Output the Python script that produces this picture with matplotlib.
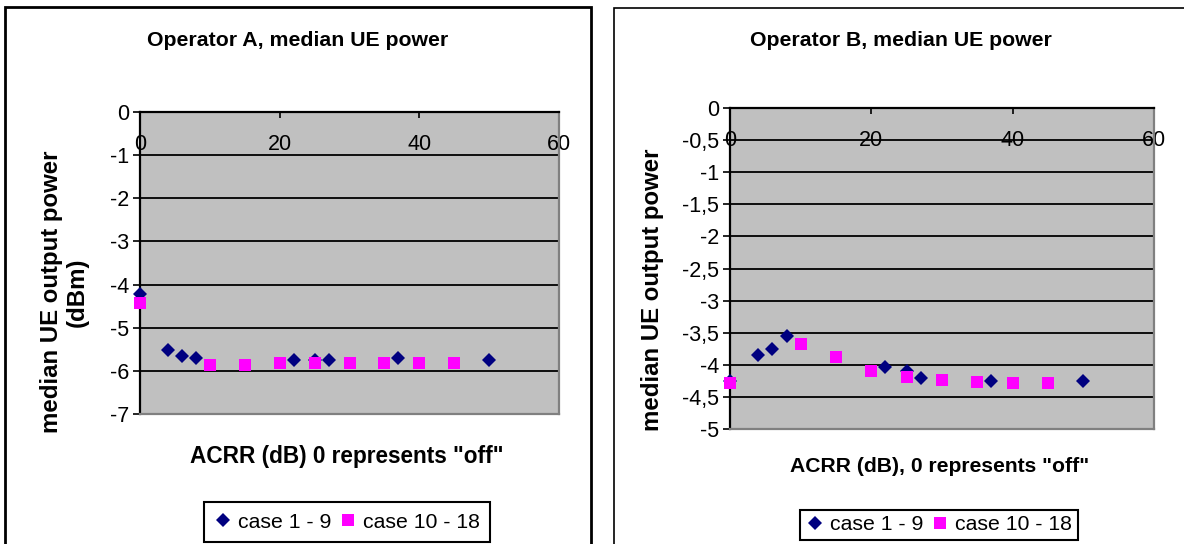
"""Median UE output power versus ACRR for operators A and B."""

import matplotlib

matplotlib.use("Agg")
import matplotlib.pyplot as plt
from matplotlib.patches import Rectangle

plt.rcParams["font.family"] = ["Liberation Sans", "DejaVu Sans"]

# Operator A
A_CASE_1_9_X = [0, 4, 6, 8, 22, 25, 27, 37, 50]
A_CASE_1_9_Y = [-4.23, -5.51, -5.66, -5.70, -5.75, -5.75, -5.75, -5.71, -5.75]
A_CASE_10_18_X = [0, 10, 15, 20, 25, 30, 35, 40, 45]
A_CASE_10_18_Y = [-4.42, -5.86, -5.86, -5.81, -5.81, -5.81, -5.81, -5.81, -5.81]
A_YTICKS = [-7, -6, -5, -4, -3, -2, -1, 0]
A_YTICKLABELS = ["-7", "-6", "-5", "-4", "-3", "-2", "-1", "0"]

# Operator B
B_CASE_1_9_X = [0, 4, 6, 8, 22, 25, 27, 37, 50]
B_CASE_1_9_Y = [-4.25, -3.85, -3.76, -3.55, -4.04, -4.10, -4.20, -4.25, -4.26]
B_CASE_10_18_X = [0, 10, 15, 20, 25, 30, 35, 40, 45]
B_CASE_10_18_Y = [-4.29, -3.67, -3.88, -4.10, -4.19, -4.23, -4.27, -4.29, -4.29]
B_YTICKS = [-5, -4.5, -4, -3.5, -3, -2.5, -2, -1.5, -1, -0.5, 0]
B_YTICKLABELS = ["-5", "-4,5", "-4", "-3,5", "-3", "-2,5", "-2", "-1,5", "-1", "-0,5", "0"]

XTICKS = [0, 20, 40, 60]
SERIES_LABELS = ["case 1 - 9", "case 10 - 18"]

NAVY = "#000080"
MAGENTA = "#FF00FF"
W, H = 1184, 544


def fx(px):
    return px / W


def fy(py):
    return 1 - py / H


def _panel(fig, rect, xs, ys, yticks, yticklabels, title, xlabel, ylabel,
           title_xy, xlabel_xy, ylabel_xy, legend_xy, xlabel_size, legend_pad):
    ax = fig.add_axes(rect)
    ax.set_facecolor("#C0C0C0")
    ax.plot(xs[0], ys[0], linestyle="none", marker="D", markersize=7.4,
            color=NAVY, markeredgewidth=0, clip_on=False, zorder=3,
            label=SERIES_LABELS[0])
    ax.plot(xs[1], ys[1], linestyle="none", marker="s", markersize=8.5,
            color=MAGENTA, markeredgewidth=0, clip_on=False, zorder=4,
            label=SERIES_LABELS[1])
    ax.set_xlim(XTICKS[0], XTICKS[-1])
    ax.set_ylim(yticks[0], yticks[-1])
    ax.set_xticks(XTICKS, [str(t) for t in XTICKS])
    ax.set_yticks(yticks, yticklabels)
    ax.tick_params(axis="x", top=True, bottom=False, labeltop=True,
                   labelbottom=False, direction="in", length=4, width=1.2,
                   pad=-31, labelsize=15.5)
    ax.tick_params(axis="y", direction="out", length=5, width=1.2,
                   pad=3, labelsize=15.5)
    ax.yaxis.grid(True, color="black", linewidth=1.3)
    ax.get_ygridlines()[0].set_visible(False)
    ax.set_axisbelow(True)
    for side in ("left", "top"):
        ax.spines[side].set_color("black")
        ax.spines[side].set_linewidth(1.6)
    for side in ("right", "bottom"):
        ax.spines[side].set_color("#808080")
        ax.spines[side].set_linewidth(1.6)

    fig.text(fx(title_xy[0]), fy(title_xy[1]), title, ha="center",
             va="center", fontsize=15.3, fontweight="bold")
    fig.text(fx(xlabel_xy[0]), fy(xlabel_xy[1]), xlabel, ha="center",
             va="center", fontsize=xlabel_size, fontweight="bold")
    fig.text(fx(ylabel_xy[0]), fy(ylabel_xy[1]), ylabel, ha="center",
             va="center", fontsize=17.3, fontweight="bold", rotation=90,
             multialignment="center", linespacing=1.15)

    leg = ax.legend(loc="center", bbox_to_anchor=(fx(legend_xy[0]), fy(legend_xy[1])),
                    bbox_transform=fig.transFigure, ncol=2, fontsize=15.3,
                    frameon=True, fancybox=False, framealpha=1,
                    edgecolor="black", handlelength=0.8, handletextpad=0.3,
                    columnspacing=0.4, borderpad=legend_pad, borderaxespad=0)
    leg.get_frame().set_linewidth(1.5)
    return ax


fig = plt.figure(figsize=(W / 100, H / 100), dpi=100)

fig.patches.append(Rectangle((fx(5), fy(560)), fx(586), fy(7) - fy(560),
                             transform=fig.transFigure, fill=False,
                             edgecolor="black", linewidth=2))
fig.patches.append(Rectangle((fx(614), fy(560)), fx(600), fy(8) - fy(560),
                             transform=fig.transFigure, fill=False,
                             edgecolor="black", linewidth=1.2))

_panel(fig, [fx(140), fy(414), fx(559 - 140), fy(112) - fy(414)],
       (A_CASE_1_9_X, A_CASE_10_18_X), (A_CASE_1_9_Y, A_CASE_10_18_Y),
       A_YTICKS, A_YTICKLABELS,
       "Operator A, median UE power", 'ACRR (dB) 0 represents "off"',
       "median UE output power\n(dBm)",
       (298, 41), (347, 456), (64, 292), (347, 522), 16.3, 0.5)

_panel(fig, [fx(730), fy(429), fx(1154 - 730), fy(108) - fy(429)],
       (B_CASE_1_9_X, B_CASE_10_18_X), (B_CASE_1_9_Y, B_CASE_10_18_Y),
       B_YTICKS, B_YTICKLABELS,
       "Operator B, median UE power", 'ACRR (dB), 0 represents "off"',
       "median UE output power",
       (901, 40), (940, 467), (652, 290), (939, 525), 15.2, 0.28)

fig.savefig("out.png", dpi=100)
